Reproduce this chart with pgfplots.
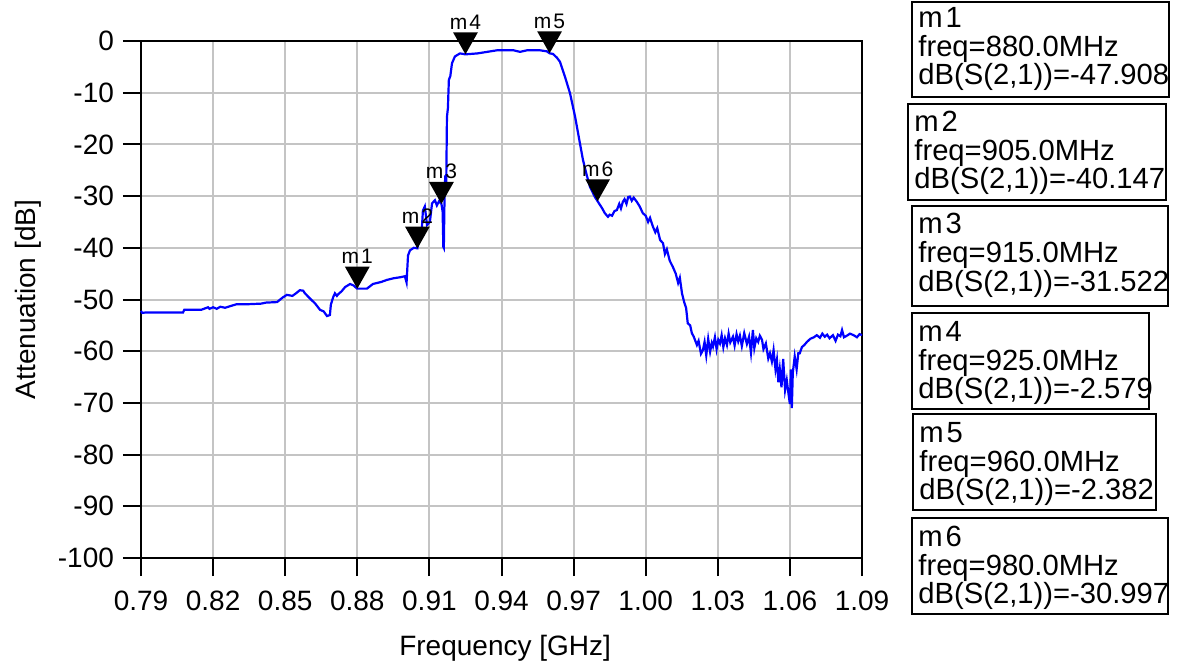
\documentclass[border=0pt]{standalone}
\usepackage{fontspec}
\setmainfont{Liberation Sans}
\usepackage{pgfplots}
\pgfplotsset{compat=1.18}
\definecolor{adsblue}{RGB}{0,0,255}
\definecolor{gridgray}{RGB}{196,196,196}
\pgfdeclareplotmark{tridown}{%
  \pgfpathmoveto{\pgfqpoint{0pt}{0pt}}%
  \pgfpathlineto{\pgfqpoint{-6.2pt}{11pt}}%
  \pgfpathlineto{\pgfqpoint{6.2pt}{11pt}}%
  \pgfpathclose
  \pgfusepathqfill}
\newcommand{\tfont}{\fontsize{14}{16}\selectfont}
\newcommand{\bfontx}{\fontsize{14.6}{16}\selectfont}
\begin{document}
\begin{tikzpicture}
\path[use as bounding box] (0,0) rectangle (591pt,332.5pt);
\begin{axis}[
  at={(70.5pt,53.5pt)}, anchor=south west,
  width=360.5pt, height=258.5pt, scale only axis,
  xmin=0.79, xmax=1.09, ymin=-100, ymax=0,
  clip=false,
  xtick={0.79,0.82,0.85,0.88,0.91,0.94,0.97,1.00,1.03,1.06,1.09},
  xticklabels={0.79,0.82,0.85,0.88,0.91,0.94,0.97,1.00,1.03,1.06,1.09},
  ytick={-100,-90,-80,-70,-60,-50,-40,-30,-20,-10,0},
  yticklabels={-100,-90,-80,-70,-60,-50,-40,-30,-20,-10,0},
  xtick pos=bottom, ytick pos=left,
  tick align=outside, major tick length=9pt,
  every tick/.style={black, line width=1pt},
  grid=major, major grid style={gridgray, line width=1pt},
  axis line style={black, line width=1pt},
  ticklabel style={font=\tfont},
  xticklabel style={yshift=-4pt},
  yticklabel style={xshift=-1pt},
  xlabel={Frequency [GHz]}, ylabel={Attenuation [dB]},
  every axis x label/.style={at={(axis description cs:0.505,-0.174)}, anchor=center, font=\tfont},
  every axis y label/.style={at={(axis description cs:-0.157,0.5)}, anchor=center, rotate=90, font=\tfont},
]
\addplot[adsblue, line width=1.1pt] coordinates {
(0.7900,-52.2) (0.7905,-52.6) (0.7920,-52.5) (0.8000,-52.5) (0.8075,-52.5)
(0.8080,-52.0) (0.8150,-52.0) (0.8179,-51.5) (0.8185,-51.8) (0.8200,-51.5)
(0.8215,-51.8) (0.8230,-51.4) (0.8250,-51.6) (0.8270,-51.3) (0.8299,-50.9)
(0.8350,-50.9) (0.8400,-50.8) (0.8420,-50.6) (0.8466,-50.5) (0.8490,-49.6)
(0.8507,-49.1) (0.8530,-49.3) (0.8545,-48.8) (0.8561,-48.2) (0.8575,-48.3)
(0.8582,-48.8) (0.8603,-49.8) (0.8625,-50.8) (0.8645,-52.0) (0.8660,-52.3)
(0.8674,-53.2) (0.8686,-53.0) (0.8690,-51.0) (0.8700,-49.5) (0.8707,-48.8)
(0.8715,-49.3) (0.8720,-49.0) (0.8735,-48.4) (0.8749,-47.6) (0.8770,-47.0)
(0.8785,-47.3) (0.8799,-47.9) (0.8820,-47.9) (0.8840,-47.9) (0.8865,-47.0)
(0.8900,-46.6) (0.8924,-46.2) (0.8950,-45.9) (0.8978,-45.7) (0.8998,-45.5)
(0.9005,-46.7) (0.9011,-41.5) (0.9019,-40.5) (0.9035,-40.0) (0.9050,-40.1)
(0.9061,-37.2) (0.9068,-36.8) (0.9073,-32.8) (0.9081,-32.0) (0.9086,-34.0)
(0.9090,-35.6) (0.9102,-35.0) (0.9111,-31.4) (0.9123,-30.8) (0.9131,-31.8)
(0.9140,-31.0) (0.9150,-31.5) (0.9155,-33.0) (0.9158,-39.8) (0.9160,-40.0)
(0.9163,-30.0) (0.9166,-26.0) (0.9170,-28.0) (0.9173,-14.7) (0.9177,-13.0)
(0.9181,-7.5) (0.9187,-6.8) (0.9194,-4.3) (0.9206,-3.0) (0.9227,-2.4)
(0.9250,-2.58) (0.9300,-2.4) (0.9381,-1.8) (0.9450,-1.8) (0.9477,-2.1)
(0.9506,-1.8) (0.9560,-1.8) (0.9589,-2.0) (0.9600,-2.38) (0.9614,-2.5)
(0.9630,-3.2) (0.9643,-4.0) (0.9664,-6.9) (0.9685,-10.1) (0.9706,-14.6)
(0.9726,-19.7) (0.9739,-23.0) (0.9755,-26.0) (0.9768,-28.2) (0.9789,-30.2)
(0.9800,-31.0) (0.9818,-32.3) (0.9830,-33.3) (0.9843,-34.0) (0.9850,-33.6)
(0.9860,-33.8) (0.9870,-32.9) (0.9880,-32.7) (0.9890,-31.5) (0.9897,-32.4)
(0.9905,-31.1) (0.9912,-30.6) (0.9920,-31.5) (0.9927,-30.2) (0.9934,-30.1)
(0.9942,-30.9) (0.9950,-30.3) (0.9963,-31.1) (0.9975,-32.0) (0.9988,-33.3)
(1.0000,-33.8) (1.0010,-35.0) (1.0018,-34.2) (1.0030,-35.9) (1.0040,-37.0)
(1.0048,-36.2) (1.0060,-38.5) (1.0072,-39.1) (1.0080,-41.2) (1.0088,-40.3)
(1.0100,-42.5) (1.0113,-43.7) (1.0125,-45.0) (1.0135,-46.8) (1.0142,-45.8)
(1.0151,-48.8) (1.0160,-50.5) (1.0168,-51.6) (1.0175,-54.6) (1.0185,-55.0)
(1.0192,-56.5) (1.0200,-57.2) (1.0213,-58.8) (1.0220,-58.0) (1.0230,-60.5)
(1.0238,-59.8) (1.0245,-58.2) (1.0252,-60.8) (1.0260,-57.6) (1.0268,-60.1)
(1.0275,-58.4) (1.0280,-59.1) (1.0288,-57.3) (1.0295,-59.6) (1.0302,-57.8)
(1.0309,-58.5) (1.0316,-56.9) (1.0323,-59.2) (1.0330,-57.5) (1.0338,-58.8)
(1.0345,-56.6) (1.0352,-58.3) (1.0363,-57.2) (1.0370,-58.9) (1.0378,-56.7)
(1.0385,-58.1) (1.0392,-57.0) (1.0400,-59.0) (1.0410,-56.5) (1.0421,-58.6)
(1.0430,-57.2) (1.0438,-60.3) (1.0446,-55.9) (1.0452,-59.4) (1.0460,-57.5)
(1.0468,-58.2) (1.0475,-57.0) (1.0484,-57.8) (1.0490,-59.6) (1.0500,-58.5)
(1.0510,-61.4) (1.0517,-60.4) (1.0525,-62.0) (1.0532,-59.8) (1.0540,-63.5)
(1.0546,-61.7) (1.0552,-66.0) (1.0558,-63.5) (1.0565,-67.0) (1.0572,-61.5)
(1.0580,-67.5) (1.0587,-65.6) (1.0594,-68.2) (1.0600,-70.2) (1.0604,-63.5)
(1.0608,-71.0) (1.0612,-64.2) (1.0620,-61.0) (1.0628,-63.5) (1.0635,-60.4)
(1.0641,-60.4) (1.0650,-59.2) (1.0660,-58.8) (1.0671,-58.2) (1.0685,-57.6)
(1.0700,-57.3) (1.0712,-56.9) (1.0725,-57.4) (1.0735,-56.6) (1.0745,-57.2)
(1.0755,-56.8) (1.0765,-57.5) (1.0779,-56.9) (1.0790,-58.0) (1.0800,-56.8)
(1.0810,-57.1) (1.0817,-55.9) (1.0825,-57.3) (1.0837,-57.0) (1.0850,-56.6)
(1.0865,-56.9) (1.0879,-57.3) (1.0890,-56.7) (1.0900,-56.9)
};
\addplot[only marks, mark=tridown, black,
  point meta=explicit symbolic,
  nodes near coords,
  every node near coord/.style={anchor=base, yshift=12.5pt, inner sep=0pt, font=\fontsize{10.5}{11}\selectfont, text=black}]
coordinates {
(0.880,-47.908) [m\kern1pt 1]
(0.905,-40.147) [m\kern1pt 2]
(0.915,-31.522) [m\kern1pt 3]
(0.925,-2.579) [m\kern1pt 4]
(0.960,-2.382) [m\kern1pt 5]
(0.980,-30.997) [m\kern1pt 6]
};
\end{axis}
\begin{scope}[x=0.5pt, y=-0.5pt, yshift=332.5pt]
\bfontx
\draw[line width=1pt] (912,2) rectangle (1169,97);
\node[anchor=base west, inner sep=0pt] at (918,28) {m\kern1.5pt 1};
\node[anchor=base west, inner sep=0pt] at (918,57) {freq=880.0MHz};
\node[anchor=base west, inner sep=0pt] at (918,85) {dB(S(2,1))=-47.908};
\draw[line width=1pt] (908,104) rectangle (1166,200);
\node[anchor=base west, inner sep=0pt] at (914,132) {m\kern1.5pt 2};
\node[anchor=base west, inner sep=0pt] at (914,161) {freq=905.0MHz};
\node[anchor=base west, inner sep=0pt] at (914,189) {dB(S(2,1))=-40.147};
\draw[line width=1pt] (912,206) rectangle (1168,306);
\node[anchor=base west, inner sep=0pt] at (918,234) {m\kern1.5pt 3};
\node[anchor=base west, inner sep=0pt] at (918,263) {freq=915.0MHz};
\node[anchor=base west, inner sep=0pt] at (918,291) {dB(S(2,1))=-31.522};
\draw[line width=1pt] (912,313) rectangle (1149,409);
\node[anchor=base west, inner sep=0pt] at (918,341) {m\kern1.5pt 4};
\node[anchor=base west, inner sep=0pt] at (918,370) {freq=925.0MHz};
\node[anchor=base west, inner sep=0pt] at (918,398) {dB(S(2,1))=-2.579};
\draw[line width=1pt] (913,414) rectangle (1156,510);
\node[anchor=base west, inner sep=0pt] at (919,442) {m\kern1.5pt 5};
\node[anchor=base west, inner sep=0pt] at (919,471) {freq=960.0MHz};
\node[anchor=base west, inner sep=0pt] at (919,499) {dB(S(2,1))=-2.382};
\draw[line width=1pt] (912,518) rectangle (1168,614);
\node[anchor=base west, inner sep=0pt] at (918,546) {m\kern1.5pt 6};
\node[anchor=base west, inner sep=0pt] at (918,575) {freq=980.0MHz};
\node[anchor=base west, inner sep=0pt] at (918,603) {dB(S(2,1))=-30.997};
\end{scope}
\end{tikzpicture}
\end{document}
